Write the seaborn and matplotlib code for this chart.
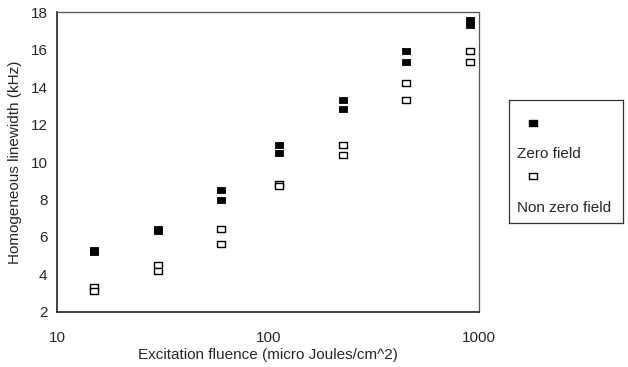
import numpy as np
import pandas as pd
import seaborn as sns
import matplotlib
import matplotlib.pyplot as plt

matplotlib.use('Agg')

# Data
fluence = [15, 30, 60, 113, 227, 450, 900]
zero_field_1 = [5.3, 6.4, 8.5, 10.9, 13.3, 15.9, 17.6]
zero_field_2 = [5.2, 6.3, 8.0, 10.5, 12.85, 15.35, 17.3]
nonzero_field_1 = [3.35, 4.5, 6.4, 8.85, 10.9, 14.2, 15.95]
nonzero_field_2 = [3.1, 4.2, 5.6, 8.7, 10.4, 13.3, 15.35]

y_ticks = [2, 4, 6, 8, 10, 12, 14, 16, 18]
x_ticks = [10, 100, 1000]

df = pd.DataFrame({
    'fluence': fluence * 4,
    'linewidth': zero_field_1 + zero_field_2 + nonzero_field_1 + nonzero_field_2,
    'field': ['Zero field'] * 14 + ['Non zero field'] * 14,
})

# slightly flattened square, like the printed markers
rect = [(-1, -0.72), (1, -0.72), (1, 0.72), (-1, 0.72), (-1, -0.72)]

sns.set_style('white')
plt.rcParams['font.family'] = ['Liberation Sans', 'DejaVu Sans']

fig = plt.figure(figsize=(6.28, 3.67), dpi=100)
ax = fig.add_axes([0.091, 0.150, 0.672, 0.817])

sns.scatterplot(data=df[df['field'] == 'Zero field'], x='fluence', y='linewidth',
                marker=rect, s=38, color='black', edgecolor='black', linewidth=0.6,
                ax=ax, legend=False, zorder=3)
sns.scatterplot(data=df[df['field'] == 'Non zero field'], x='fluence', y='linewidth',
                marker=rect, s=34, facecolor='white', edgecolor='black', linewidth=1.0,
                ax=ax, legend=False, zorder=3)

ax.set_xscale('log')
ax.set_xlim(10, 1000)
ax.set_ylim(2, 18)
ax.set_xticks(x_ticks)
ax.set_xticklabels([str(t) for t in x_ticks])
ax.minorticks_off()
ax.set_yticks(y_ticks)
ax.tick_params(axis='both', length=0, labelsize=11)
ax.tick_params(axis='x', pad=14)
ax.tick_params(axis='y', pad=7)
ax.set_xlabel('Excitation fluence (micro Joules/cm^2)', fontsize=11, labelpad=2)
ax.set_ylabel('Homogeneous linewidth (kHz)', fontsize=11, labelpad=6)

for side in ['left', 'bottom']:
    ax.spines[side].set_color('#222222')
    ax.spines[side].set_linewidth(1.2)
for side in ['top', 'right']:
    ax.spines[side].set_color('#555555')
    ax.spines[side].set_linewidth(0.9)

# Legend box: marker above each label, as in the reference
lax = fig.add_axes([509 / 628, 1 - 223 / 367, 114 / 628, 123 / 367])
lax.set_xlim(0, 1)
lax.set_ylim(0, 1)
lax.set_xticks([])
lax.set_yticks([])
for s in lax.spines.values():
    s.set_color('#333333')
    s.set_linewidth(0.9)
lax.scatter([0.21], [0.81], marker=rect, s=34, color='black')
lax.text(0.07, 0.56, 'Zero field', fontsize=11, va='center', ha='left')
lax.scatter([0.21], [0.38], marker=rect, s=30, facecolor='white', edgecolor='black', linewidth=1.0)
lax.text(0.07, 0.12, 'Non zero field', fontsize=11, va='center', ha='left')

plt.savefig('out.png', dpi=100)
